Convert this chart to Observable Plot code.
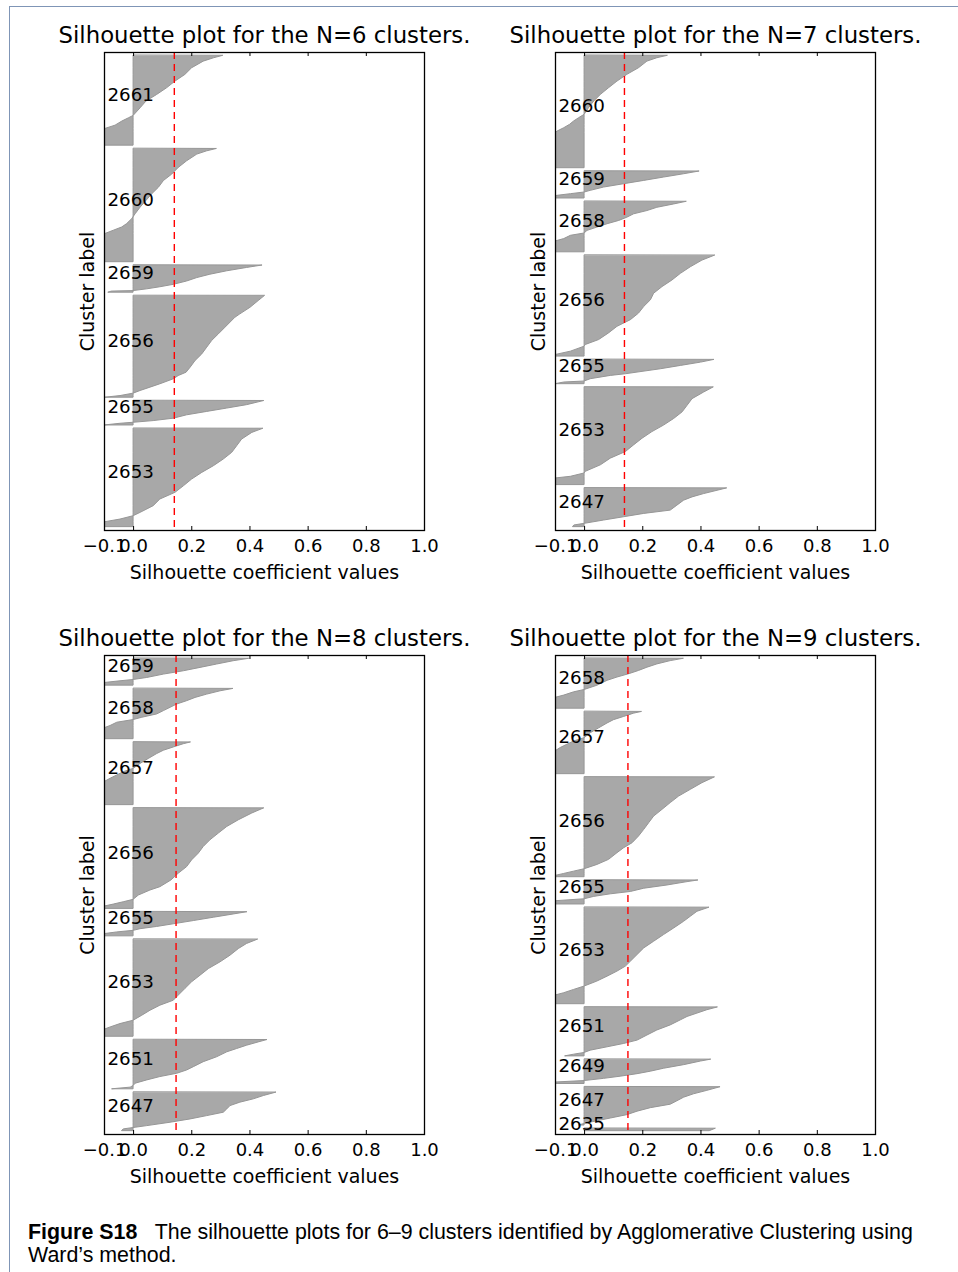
<!DOCTYPE html>
<html>
<head>
<meta charset="utf-8">
<script src="https://cdn.jsdelivr.net/npm/d3@7"></script>
<script src="https://cdn.jsdelivr.net/npm/@observablehq/plot@0.6"></script>
<style>
html, body { margin: 0; padding: 0; background: #fff; }
#page { position: relative; width: 958px; height: 1272px; overflow: hidden; background: #fff; }
#border { position: absolute; left: 9px; top: 6px; width: 1200px; height: 1400px; border-left: 1px solid #7f95b6; border-top: 1px solid #7f95b6; }
.panel { position: absolute; width: 451px; }
.panel svg { overflow: visible; }
#caption { position: absolute; left: 28px; top: 1221px; font-family: "Liberation Sans", Arial, sans-serif; font-size: 18.5px; line-height: 23px; color: #000; white-space: nowrap; }
</style>
</head>
<body>
<div id="page">
  <div id="border"></div>
  <div id="p6" class="panel" style="left:0px;top:0px"></div>
  <div id="p7" class="panel" style="left:451px;top:0px"></div>
  <div id="p8" class="panel" style="left:0px;top:603px"></div>
  <div id="p9" class="panel" style="left:451px;top:603px"></div>
  <div id="caption">
    <div id="cap1"><b>Figure S18</b>&nbsp;&nbsp; The silhouette plots for 6–9 clusters identified by Agglomerative Clustering using</div>
    <div id="cap2">Ward’s method.</div>
  </div>
</div>
<script>
// ---------- shared axis data ----------
const xTicks = [-0.1, 0.0, 0.2, 0.4, 0.6, 0.8, 1.0];
const xLabel = "Silhouette coefficient values";
const yLabel = "Cluster label";
const gap = 10;          // samples between clusters (sklearn layout)
const labelX = -0.09;    // silhouette value where cluster names start

// ---------- N = 6 (clusters listed bottom to top) ----------
const n6Title = "Silhouette plot for the N=6 clusters.";
const n6Labels = [2653, 2655, 2656, 2659, 2660, 2661];
const n6Sizes = [290, 72, 300, 80, 334, 265];
const n6Average = 0.140;
// each profile: [fraction of cluster from its top, silhouette value]
const n6Profiles = [
  [[0,0.445],[0.041,0.408],[0.109,0.373],[0.177,0.356],[0.244,0.339],[0.312,0.31],[0.38,0.276],[0.448,0.236],[0.516,0.201],[0.584,0.173],[0.651,0.144],[0.719,0.092],[0.787,0.069],[0.855,0.024],[0.889,0],[0.923,-0.045],[0.95,-0.097],[1,-0.2]],
  [[0,0.448],[0.167,0.39],[0.306,0.322],[0.444,0.253],[0.583,0.184],[0.722,0.138],[0.82,0.069],[0.889,0],[0.93,-0.045],[1,-0.1]],
  [[0,0.451],[0.049,0.43],[0.115,0.402],[0.18,0.367],[0.213,0.35],[0.311,0.316],[0.377,0.293],[0.442,0.27],[0.508,0.253],[0.574,0.236],[0.639,0.213],[0.705,0.196],[0.754,0.182],[0.787,0.155],[0.819,0.138],[0.868,0.092],[0.901,0.058],[0.934,0.024],[0.96,0],[0.984,-0.045],[1,-0.097]],
  [[0,0.442],[0.087,0.39],[0.21,0.322],[0.337,0.264],[0.46,0.219],[0.587,0.184],[0.71,0.138],[0.8,0.092],[0.876,0.047],[0.94,0],[0.96,-0.075],[1,-0.087]],
  [[0,0.285],[0.02,0.253],[0.049,0.219],[0.108,0.184],[0.167,0.155],[0.225,0.133],[0.283,0.104],[0.342,0.087],[0.4,0.064],[0.459,0.044],[0.518,0.024],[0.576,0.007],[0.62,-0.005],[0.663,-0.022],[0.693,-0.039],[0.722,-0.068],[0.751,-0.097],[0.8,-0.14],[1,-0.25]],
  [[0,0.307],[0.027,0.276],[0.064,0.241],[0.138,0.201],[0.212,0.178],[0.286,0.144],[0.361,0.115],[0.435,0.081],[0.509,0.044],[0.584,0.024],[0.669,0],[0.695,-0.016],[0.732,-0.039],[0.777,-0.062],[0.814,-0.097],[0.85,-0.13],[1,-0.25]]
];

// ---------- N = 7 ----------
const n7Title = "Silhouette plot for the N=7 clusters.";
const n7Labels = [2647, 2653, 2655, 2656, 2658, 2659, 2660];
const n7Sizes = [115, 290, 72, 300, 150, 80, 334];
const n7Average = 0.137;
const n7Profiles = [
  [[0,0.489],[0.06,0.457],[0.145,0.411],[0.231,0.371],[0.316,0.342],[0.444,0.319],[0.573,0.296],[0.658,0.205],[0.744,0.136],[0.829,0.067],[0.915,0],[0.957,-0.035],[1,-0.04]],
  [[0,0.443],[0.051,0.411],[0.119,0.371],[0.187,0.354],[0.254,0.337],[0.322,0.308],[0.39,0.273],[0.457,0.233],[0.525,0.199],[0.593,0.17],[0.661,0.142],[0.729,0.09],[0.797,0.056],[0.864,0.004],[0.881,0],[0.915,-0.047],[0.932,-0.099],[1,-0.2]],
  [[0,0.445],[0.11,0.4],[0.247,0.331],[0.384,0.262],[0.521,0.182],[0.59,0.142],[0.659,0.09],[0.795,0.021],[0.89,0],[0.932,-0.07],[1,-0.1]],
  [[0,0.448],[0.049,0.405],[0.115,0.365],[0.18,0.331],[0.246,0.302],[0.311,0.268],[0.377,0.239],[0.442,0.228],[0.508,0.205],[0.574,0.187],[0.639,0.159],[0.705,0.113],[0.77,0.084],[0.836,0.05],[0.885,0.004],[0.902,0],[0.951,-0.047],[0.984,-0.099],[1,-0.15]],
  [[0,0.35],[0.051,0.308],[0.118,0.25],[0.182,0.216],[0.247,0.17],[0.314,0.147],[0.378,0.119],[0.443,0.079],[0.51,0.044],[0.575,0.01],[0.627,0],[0.673,-0.047],[0.738,-0.07],[0.784,-0.099],[1,-0.2]],
  [[0,0.394],[0.099,0.342],[0.222,0.273],[0.346,0.205],[0.469,0.136],[0.593,0.067],[0.716,0.021],[0.778,0],[0.84,-0.047],[0.901,-0.093],[1,-0.15]],
  [[0,0.285],[0.021,0.25],[0.051,0.216],[0.11,0.187],[0.169,0.147],[0.229,0.113],[0.288,0.084],[0.347,0.056],[0.407,0.033],[0.466,0.015],[0.525,0],[0.555,-0.019],[0.584,-0.036],[0.614,-0.05],[0.644,-0.07],[0.674,-0.093],[0.689,-0.1],[1,-0.3]]
];

// ---------- N = 8 ----------
const n8Title = "Silhouette plot for the N=8 clusters.";
const n8Labels = [2647, 2651, 2653, 2655, 2656, 2657, 2658, 2659];
const n8Sizes = [115, 147, 290, 72, 300, 187, 150, 80];
const n8Average = 0.146;
const n8Profiles = [
  [[0,0.49],[0.087,0.448],[0.174,0.413],[0.26,0.367],[0.349,0.333],[0.435,0.322],[0.521,0.31],[0.609,0.253],[0.695,0.196],[0.781,0.127],[0.869,0.047],[0.911,0.007],[0.955,-0.034],[1,-0.04]],
  [[0,0.459],[0.047,0.43],[0.114,0.39],[0.181,0.356],[0.248,0.322],[0.349,0.287],[0.449,0.241],[0.55,0.207],[0.617,0.184],[0.684,0.15],[0.751,0.092],[0.819,0.047],[0.886,0.007],[0.933,0],[0.966,-0.01],[1,-0.074]],
  [[0,0.427],[0.044,0.39],[0.096,0.362],[0.165,0.333],[0.233,0.299],[0.302,0.259],[0.371,0.23],[0.439,0.201],[0.508,0.178],[0.577,0.155],[0.629,0.138],[0.68,0.092],[0.732,0.058],[0.783,0.03],[0.835,0],[0.869,-0.045],[0.904,-0.079],[0.928,-0.1],[1,-0.2]],
  [[0,0.39],[0.093,0.344],[0.228,0.276],[0.366,0.207],[0.5,0.138],[0.61,0.081],[0.703,0.024],[0.772,0],[0.837,-0.056],[0.907,-0.1],[1,-0.12]],
  [[0,0.448],[0.05,0.408],[0.117,0.362],[0.184,0.322],[0.25,0.293],[0.317,0.264],[0.384,0.241],[0.45,0.224],[0.517,0.201],[0.584,0.184],[0.65,0.155],[0.717,0.13],[0.784,0.092],[0.817,0.058],[0.867,0.018],[0.91,0],[0.934,-0.034],[0.957,-0.068],[0.977,-0.1],[1,-0.15]],
  [[0,0.196],[0.026,0.173],[0.079,0.138],[0.131,0.104],[0.184,0.081],[0.263,0.052],[0.342,0.024],[0.421,0],[0.474,-0.034],[0.526,-0.056],[0.579,-0.079],[0.632,-0.1],[1,-0.25]],
  [[0,0.342],[0.046,0.299],[0.112,0.253],[0.178,0.213],[0.243,0.184],[0.309,0.15],[0.375,0.127],[0.441,0.104],[0.507,0.081],[0.573,0.03],[0.619,0],[0.672,-0.056],[0.737,-0.079],[0.783,-0.1],[1,-0.2]],
  [[0,0.396],[0.088,0.344],[0.212,0.287],[0.338,0.23],[0.463,0.173],[0.588,0.104],[0.714,0.047],[0.789,0],[0.838,-0.045],[0.902,-0.1],[1,-0.15]]
];

// ---------- N = 9 ----------
const n9Title = "Silhouette plot for the N=9 clusters.";
const n9Labels = [2635, 2647, 2649, 2651, 2653, 2655, 2656, 2657, 2658];
const n9Sizes = [7, 115, 73, 147, 290, 72, 300, 187, 150];
const n9Average = 0.149;
const n9Profiles = [
  [[0,0.45],[1,0.43]],
  [[0,0.466],[0.093,0.422],[0.183,0.376],[0.272,0.342],[0.365,0.319],[0.455,0.296],[0.545,0.228],[0.638,0.182],[0.728,0.147],[0.817,0.09],[0.91,0.03],[0.96,0],[1,-0.02]],
  [[0,0.434],[0.075,0.4],[0.224,0.342],[0.372,0.273],[0.493,0.228],[0.596,0.182],[0.7,0.124],[0.789,0.067],[0.879,0],[0.94,-0.1],[1,-0.12]],
  [[0,0.457],[0.055,0.422],[0.124,0.388],[0.193,0.354],[0.262,0.331],[0.366,0.296],[0.47,0.25],[0.573,0.216],[0.677,0.182],[0.745,0.136],[0.814,0.079],[0.883,0.021],[0.93,0],[0.965,-0.036],[1,-0.067]],
  [[0,0.428],[0.041,0.388],[0.093,0.365],[0.145,0.342],[0.214,0.308],[0.283,0.273],[0.352,0.239],[0.421,0.205],[0.49,0.182],[0.559,0.159],[0.61,0.142],[0.662,0.113],[0.714,0.079],[0.765,0.044],[0.817,0],[0.852,-0.036],[0.886,-0.07],[0.91,-0.1],[1,-0.2]],
  [[0,0.39],[0.066,0.354],[0.206,0.285],[0.342,0.205],[0.477,0.159],[0.576,0.09],[0.683,0.033],[0.782,0],[0.864,-0.1],[1,-0.12]],
  [[0,0.447],[0.057,0.405],[0.124,0.365],[0.191,0.325],[0.257,0.296],[0.324,0.268],[0.392,0.239],[0.458,0.222],[0.525,0.205],[0.592,0.187],[0.659,0.165],[0.709,0.136],[0.759,0.113],[0.826,0.084],[0.877,0.044],[0.92,0],[0.944,-0.036],[0.967,-0.07],[0.987,-0.1],[1,-0.12]],
  [[0,0.196],[0.026,0.17],[0.079,0.136],[0.131,0.101],[0.184,0.079],[0.263,0.05],[0.342,0.021],[0.421,0],[0.474,-0.036],[0.526,-0.059],[0.579,-0.082],[0.632,-0.1],[1,-0.25]],
  [[0,0.34],[0.046,0.296],[0.112,0.25],[0.178,0.216],[0.243,0.187],[0.309,0.153],[0.375,0.113],[0.441,0.079],[0.54,0.044],[0.625,0],[0.672,-0.036],[0.737,-0.07],[0.783,-0.1],[1,-0.2]]
];

// ---------- drawing ----------
function silhouettePanel(title, labels, sizes, profiles, average, frameH) {
  const rows = [];
  const labelRows = [];
  let yLower = gap;
  labels.forEach((lab, i) => {
    const size = sizes[i];
    for (const [f, v] of profiles[i]) {
      rows.push({label: lab, y: yLower + (1 - f) * size, v: v, base: 0});
    }
    labelRows.push({label: String(lab), y: yLower + size / 2});
    yLower += size + gap;
  });
  const total = yLower;
  const mTop = 52, mBottom = 70;
  return Plot.plot({
    width: 451,
    height: mTop + frameH + mBottom,
    marginLeft: 104,
    marginRight: 27,
    marginTop: mTop,
    marginBottom: mBottom,
    x: {domain: [-0.1, 1.0]},
    y: {domain: [0, total], axis: null},
    style: {fontFamily: "'DejaVu Sans', sans-serif", fontSize: "18px", background: "transparent", overflow: "visible", color: "black"},
    marks: [
      Plot.areaX(rows, {y: "y", x1: "base", x2: "v", z: "label", fill: "#a8a8a8", stroke: "#969696", strokeWidth: 1, clip: true}),
      Plot.text(labelRows, {x: () => labelX, y: "y", text: "label", textAnchor: "start", lineAnchor: "bottom", fontSize: 18.3, fill: "black"}),
      Plot.ruleX([average], {stroke: "red", strokeWidth: 1.4, strokeDasharray: "7,5"}),
      Plot.ruleX(xTicks, {insetBottom: frameH - 4, stroke: "black", strokeWidth: 1}),
      Plot.ruleX(xTicks, {insetTop: frameH - 4, stroke: "black", strokeWidth: 1}),
      Plot.axisX(xTicks, {tickSize: 0, tickPadding: 9, tickFormat: d3.format(".1f"), label: null, fontSize: 18}),
      Plot.text([xLabel], {frameAnchor: "bottom", lineAnchor: "bottom", dy: 48.3, text: d => d, fontSize: 19}),
      Plot.text([yLabel], {frameAnchor: "left", textAnchor: "middle", rotate: -90, lineAnchor: "bottom", dx: -10.7, text: d => d, fontSize: 19}),
      Plot.text([title], {frameAnchor: "top", lineAnchor: "bottom", dy: -9.3, text: d => d, fontSize: 22.8}),
      Plot.frame({stroke: "black", strokeWidth: 1.3})
    ]
  });
}

document.getElementById("p6").append(silhouettePanel(n6Title, n6Labels, n6Sizes, n6Profiles, n6Average, 478));
document.getElementById("p7").append(silhouettePanel(n7Title, n7Labels, n7Sizes, n7Profiles, n7Average, 478));
document.getElementById("p8").append(silhouettePanel(n8Title, n8Labels, n8Sizes, n8Profiles, n8Average, 479));
document.getElementById("p9").append(silhouettePanel(n9Title, n9Labels, n9Sizes, n9Profiles, n9Average, 479));

// fit the caption's first line to the width it has in the figure
(function fitCaption() {
  const cap = document.getElementById("caption");
  const line = document.getElementById("cap1");
  const target = 885;
  const w = line.getBoundingClientRect().width;
  if (w > 0) {
    const fs = 18.5 * target / w;
    cap.style.fontSize = fs.toFixed(2) + "px";
  }
})();
</script>
</body>
</html>
